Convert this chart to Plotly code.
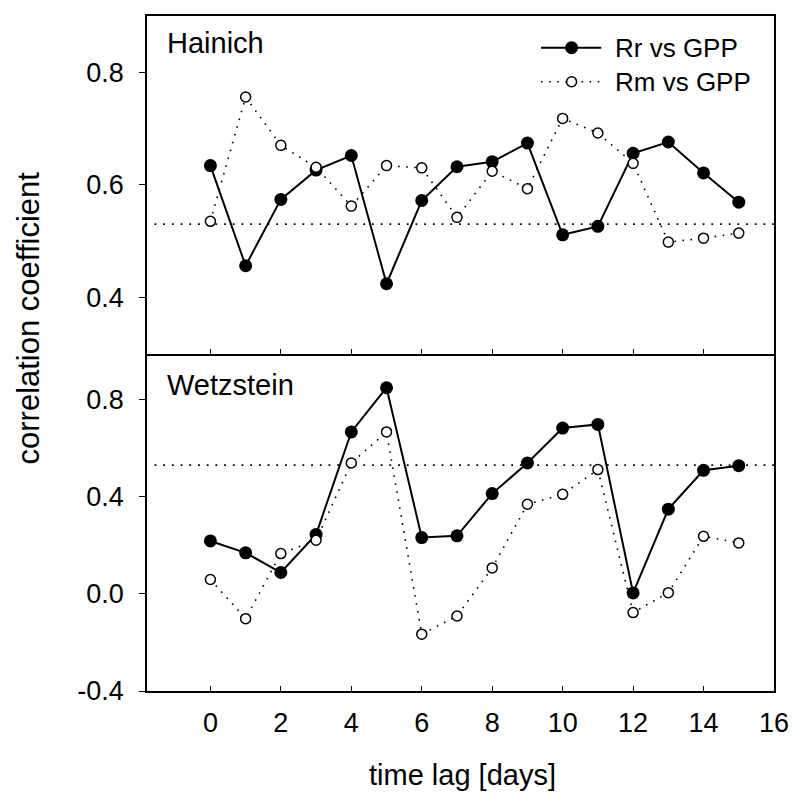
import plotly.graph_objects as go

# time lag in days
lag_days = list(range(16))

# Hainich: correlation coefficients
hainich_rr = [0.634, 0.456, 0.574, 0.626, 0.652, 0.424, 0.572, 0.632,
              0.641, 0.674, 0.511, 0.526, 0.656, 0.676, 0.621, 0.569]
hainich_rm = [0.535, 0.756, 0.670, 0.631, 0.562, 0.634, 0.630, 0.542,
              0.624, 0.593, 0.718, 0.692, 0.638, 0.498, 0.505, 0.514]

# Wetzstein: correlation coefficients
wetzstein_rr = [0.218, 0.169, 0.088, 0.245, 0.667, 0.849, 0.232, 0.239,
                0.413, 0.539, 0.683, 0.698, 0.004, 0.349, 0.509, 0.528]
wetzstein_rm = [0.059, -0.102, 0.166, 0.221, 0.539, 0.667, -0.166, -0.091,
                0.107, 0.369, 0.410, 0.512, -0.077, 0.005, 0.237, 0.210]

# significance threshold drawn as a dotted reference line
significance_level = 0.53

series_names = ["Rr vs GPP", "Rm vs GPP"]
panel_names = ["Hainich", "Wetzstein"]

x_ticks = [0, 2, 4, 6, 8, 10, 12, 14, 16]
top_y_ticks = [0.4, 0.6, 0.8]
bottom_y_ticks = [-0.4, 0.0, 0.4, 0.8]

FONT = "Liberation Sans, Arial, sans-serif"
BLACK = "#000000"

W, H = 801, 797
L, R, T, B = 147, 19, 16, 106
PW, PH = W - L - R, H - T - B


def px_x(px):
    return (px - L) / PW


def px_y(py):
    return (H - B - py) / PH


fig = go.Figure()

panels = [
    (hainich_rr, hainich_rm, "x", "y"),
    (wetzstein_rr, wetzstein_rm, "x2", "y2"),
]

for rr, rm, xa, ya in panels:
    fig.add_trace(go.Scatter(
        x=lag_days, y=rr, mode="lines+markers", name=series_names[0],
        xaxis=xa, yaxis=ya, showlegend=False,
        line=dict(color=BLACK, width=2),
        marker=dict(symbol="circle", size=13, color=BLACK),
    ))
    fig.add_trace(go.Scatter(
        x=lag_days, y=rm, mode="lines+markers", name=series_names[1],
        xaxis=xa, yaxis=ya, showlegend=False,
        line=dict(color=BLACK, width=1.6, dash="1.6px,6.5px"),
        marker=dict(symbol="circle", size=10, color="white",
                    line=dict(color=BLACK, width=1.5)),
    ))

# dotted threshold lines across each panel
for xa, ya in [("x", "y"), ("x2", "y2")]:
    fig.add_shape(
        type="line", xref=f"{xa} domain", yref=ya,
        x0=0.012, x1=1, y0=significance_level, y1=significance_level,
        line=dict(color=BLACK, width=1.8, dash="1.8px,6.9px"),
        layer="below",
    )

axis_common = dict(
    showline=True, linecolor=BLACK, linewidth=1.5,
    showgrid=False, zeroline=False, tickcolor=BLACK, tickwidth=1.3,
    tickfont=dict(family=FONT, size=27, color=BLACK),
)

x_range = [-1.8, 16]

fig.update_layout(
    width=W, height=H,
    margin=dict(l=L, r=R, t=T, b=B, pad=0),
    paper_bgcolor="white", plot_bgcolor="white",
    showlegend=False,
    xaxis=dict(
        axis_common, mirror=True, domain=[0, 1], anchor="y", range=x_range,
        tickvals=x_ticks, ticks="inside", ticklen=5, showticklabels=False,
    ),
    yaxis=dict(
        axis_common, mirror=True, domain=[0.5, 1], anchor="x",
        range=[0.3, 0.9],
        tickvals=top_y_ticks, ticktext=[f"{v:.1f}" for v in top_y_ticks],
        ticks="outside", ticklen=6, ticklabelstandoff=10,
    ),
    # the top edge of the lower panel is the bottom line of the upper one
    xaxis2=dict(
        axis_common, mirror=False, domain=[0, 1], anchor="y2", range=x_range,
        tickvals=x_ticks, ticktext=[str(v) for v in x_ticks],
        ticks="inside", ticklen=5, ticklabelstandoff=7,
    ),
    yaxis2=dict(
        axis_common, mirror=True, domain=[0, 0.5], anchor="x2",
        range=[-0.4, 0.99],
        tickvals=bottom_y_ticks, ticktext=[f"{v:.1f}" for v in bottom_y_ticks],
        ticks="outside", ticklen=6, ticklabelstandoff=10,
    ),
)

annotations = []

# panel labels
for name, cy in zip(panel_names, [43, 385]):
    annotations.append(dict(
        text=name, xref="paper", yref="paper", x=px_x(165), y=px_y(cy),
        xanchor="left", yanchor="middle", showarrow=False,
        font=dict(family=FONT, size=29, color=BLACK),
    ))

# axis titles
annotations.append(dict(
    text="time lag [days]", xref="paper", yref="paper",
    x=px_x(467), y=px_y(775), xanchor="center", yanchor="middle",
    showarrow=False, font=dict(family=FONT, size=29, color=BLACK),
))
annotations.append(dict(
    text="correlation coefficient", xref="paper", yref="paper",
    x=px_x(28), y=px_y(318), xanchor="center", yanchor="middle",
    textangle=-90, showarrow=False,
    font=dict(family=FONT, size=31, color=BLACK),
))

# legend drawn in the upper right corner of the top panel
legend_rows = [47.7, 81.7]
line_x0, line_x1, marker_x = 546, 607, 577
legend_styles = [
    dict(line=dict(color=BLACK, width=2), fill=BLACK, r=6.5, mline=0),
    dict(line=dict(color=BLACK, width=1.6, dash="1.6px,6.5px"),
         fill="white", r=5, mline=1.5),
]
for name, cy, st in zip(series_names, legend_rows, legend_styles):
    fig.add_shape(type="line", xref="paper", yref="paper",
                  x0=px_x(line_x0), x1=px_x(line_x1),
                  y0=px_y(cy), y1=px_y(cy), line=st["line"])
    fig.add_shape(type="circle", xref="paper", yref="paper",
                  xsizemode="pixel", ysizemode="pixel",
                  xanchor=px_x(marker_x), yanchor=px_y(cy),
                  x0=-st["r"], x1=st["r"], y0=-st["r"], y1=st["r"],
                  fillcolor=st["fill"],
                  line=dict(color=BLACK, width=st["mline"]))
    annotations.append(dict(
        text=name, xref="paper", yref="paper", x=px_x(618.5), y=px_y(cy),
        xanchor="left", yanchor="middle", showarrow=False,
        font=dict(family=FONT, size=26, color=BLACK),
    ))

fig.update_layout(annotations=annotations)

fig.write_html("out.html")
